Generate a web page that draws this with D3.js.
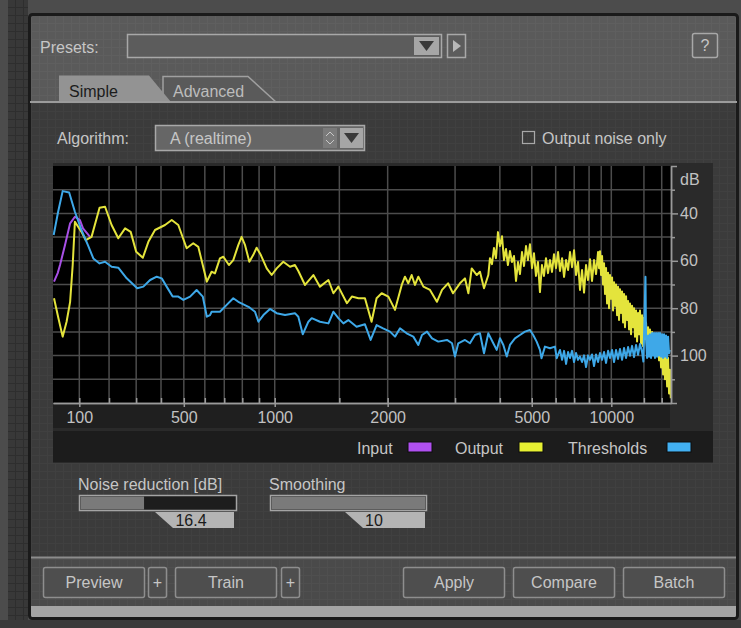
<!DOCTYPE html>
<html>
<head>
<meta charset="utf-8">
<script src="https://cdn.jsdelivr.net/npm/d3@7"></script>
<style>
  body { margin: 0; background: #4a4a4a; }
  svg { display: block; }
  text { font-family: "Liberation Sans", Arial, sans-serif; }
</style>
</head>
<body>
<div id="chart-area"></div>
<script>
// ---- data ----
var majorTicks = [100, 500, 1000, 2000, 5000, 10000];
var minorTicks = [200, 300, 400, 600, 700, 800, 900, 1500, 3000, 4000, 6000, 7000, 8000, 9000, 15000, 20000];
var dbLabels = [-40, -60, -80, -100];
var dbMinor = [-30, -50, -70, -90, -110];
var dbGrid = [-30, -40, -50, -60, -70, -80, -90, -100, -110];

var inputFreq = [22, 33, 40, 55, 71, 86, 102, 112, 135];
var inputDb = [-68.8, -65.2, -61.8, -53.4, -44.2, -41.4, -42.8, -46.3, -49.9];

var outputFreq = [22, 35, 48, 60, 71, 79, 86, 107, 121, 140, 167, 186, 209, 233, 258, 279, 300, 326, 348, 375,
  417, 446, 475, 513, 544, 568, 610, 626, 634, 651, 677, 695, 725, 749, 777, 796, 816, 841, 864, 885,
  911, 948, 980, 1013, 1058, 1105, 1140, 1165, 1215, 1280, 1333, 1404, 1447, 1491, 1570, 1617, 1681, 1748, 1818, 1873,
  1930, 2008, 2089, 2174, 2216, 2260, 2306, 2352, 2400, 2474, 2574, 2684, 2769, 2873, 2962, 3093, 3191, 3260, 3330, 3440,
  3510, 3603, 3706,
  3746, 3796, 3846, 3897, 3950, 4003, 4058, 4113, 4169, 4224, 4284, 4344, 4405, 4467, 4530, 4593, 4660, 4727, 4795, 4864,
  4934, 5008, 5081, 5157, 5234, 5312, 5394, 5477, 5562, 5649, 5736, 5828, 5921, 6016, 6115, 6213, 6318, 6423, 6530, 6641,
  6751, 6869, 6988, 7110, 7237, 7364, 7500, 7637, 7778, 7924, 8070, 8225, 8386, 8550, 8722, 8810,
  8893, 8986, 9079, 9171, 9264, 9357, 9458, 9559, 9660, 9761, 9862, 9972, 10083, 10193, 10304, 10414, 10535, 10657, 10778, 10899,
  11020, 11154, 11288, 11422, 11556, 11690, 11838, 11987, 12135, 12284, 12432, 12597, 12762, 12928, 13093, 13258, 13444, 13629, 13815, 14000,
  14186, 14395, 14605, 14814, 15024, 15233, 15472, 15710, 15949, 16187, 16426, 16700, 16975, 17249, 17523, 17797, 18116, 18435, 18754, 19073,
  19392, 19766, 20141, 20515, 20890, 21264, 21710, 22157, 22603, 23049, 23495, 23900];
var outputDb = [-75.8, -84.1, -92.0, -85.7, -77.3, -61.8, -43.5, -47.8, -51.3, -49.9, -37.6, -37.2, -44.9, -50.5, -46.3, -47.8, -56.2, -58.7, -52.0, -47.0,
  -44.9, -42.8, -44.9, -54.7, -52.6, -54.1, -68.8, -66.0, -64.6, -65.3, -59.0, -58.3, -61.8, -59.7, -53.4, -49.9, -53.4, -60.4, -57.6, -54.5,
  -57.6, -63.2, -66.0, -63.2, -60.4, -62.5, -61.8, -64.3, -70.2, -66.0, -70.9, -68.1, -73.7, -70.9, -77.9, -75.1, -75.8, -75.8, -85.7, -75.8,
  -73.7, -75.1, -80.7, -70.2, -66.7, -69.5, -66.0, -70.2, -66.7, -70.9, -72.3, -77.3, -72.3, -69.5, -73.7, -69.5, -67.4, -73.7, -63.2, -66.0,
  -64.6, -71.6, -66.0,
  -58.9, -61.4, -54.6, -58.9, -47.9, -53.8, -49.6, -59.7, -55.0, -61.8, -55.9, -60.5, -58.0, -68.5, -60.5, -65.6, -56.3, -62.2, -53.8, -59.7,
  -53.0, -63.1, -56.8, -66.4, -60.5, -73.2, -61.8, -66.4, -58.9, -65.2, -59.7, -64.7, -57.2, -63.1, -56.3, -64.3, -58.9, -66.8, -59.7, -63.9,
  -56.3, -62.7, -55.5, -66.0, -60.5, -72.3, -63.9, -73.4, -61.8, -68.1, -59.3, -68.5, -59.7, -65.6, -56.3, -63.1,
  -56, -66, -58, -70, -61, -74, -63, -78, -65, -80, -66, -76, -67, -81, -69, -79, -70, -83, -71, -85,
  -72, -82, -73, -86, -74, -88, -75, -85, -77, -89, -78, -91, -79, -88, -80, -92, -81, -94, -82, -91,
  -81, -95, -83, -96, -84, -93, -86, -97, -88, -98, -89, -96, -90, -99, -91, -100, -92, -98, -93, -102,
  -94, -105, -95, -108, -96, -110, -98, -113, -101, -116, -106, -118];

var threshFreq = [21, 34, 48, 68, 86, 107, 128, 146, 167, 186, 209, 233, 264, 304, 328, 355, 382, 403, 424, 450,
  475, 498, 529, 560, 590, 610, 626, 634, 677, 713, 749, 777, 836, 875, 896, 927, 969, 1013, 1070, 1140,
  1165, 1198, 1241, 1267, 1333, 1404, 1447, 1491, 1537, 1583, 1663, 1748, 1808, 1873, 1946, 2028, 2089, 2152, 2238, 2329,
  2400, 2453, 2528, 2606, 2707, 2854, 2944, 2998, 3060, 3191, 3293, 3400, 3510, 3603, 3706, 3829, 3916, 4003, 4095, 4191,
  4284, 4435, 4593, 4760, 4934, 5052, 5183, 5312, 5375, 5518, 5736, 5967, 6050,
  6213, 6318, 6423, 6530, 6641, 6751, 6869, 6988, 7110, 7237, 7364, 7500, 7637, 7778, 7924, 8070, 8225, 8386, 8550, 8722,
  8893, 9079, 9264, 9458, 9660, 9862, 10083, 10304, 10535, 10778, 11020, 11288, 11556, 11838, 12135, 12432, 12762, 13093, 13444, 13815,
  14186, 14605, 14880, 15340, 15472, 15710, 15949, 16187, 16426, 16700, 16975, 17249, 17523, 17797, 18116, 18435, 18754, 19073, 19392, 19766,
  20141, 20515, 20890, 21264, 21710, 22157, 22603, 23049, 23495];
var threshDb = [-49.1, -39.5, -30.6, -31.2, -39.3, -47.0, -53.4, -59.0, -61.1, -60.4, -62.5, -62.9, -67.4, -71.6, -70.9, -68.1, -66.7, -67.4, -70.9, -75.1,
  -75.1, -76.5, -75.1, -72.3, -75.1, -83.6, -82.9, -81.5, -81.5, -78.6, -75.8, -77.3, -79.4, -81.5, -85.7, -82.9, -80.3, -82.1, -82.9, -82.1,
  -83.6, -91.0, -85.7, -84.2, -85.7, -86.4, -81.5, -84.2, -86.4, -85.0, -87.8, -86.8, -93.4, -87.1, -88.5, -89.9, -92.0, -88.5, -90.6, -92.0,
  -95.5, -91.3, -89.9, -92.7, -94.1, -93.4, -94.8, -100.4, -94.8, -93.4, -94.8, -91.3, -90.6, -99.0, -90.6, -94.8, -97.6, -92.7, -95.5, -100.4,
  -95.5, -92.7, -91.3, -89.9, -89.2, -91.3, -94.1, -97.6, -101.1, -96.2, -96.9, -96.2, -101.1,
  -97.6, -101.8, -98.0, -103.5, -98.5, -101.0, -98.0, -102.7, -98.9, -101.8, -100.4, -102.7, -99.9, -104.8, -99.9, -101.8, -99.5, -104.4, -99.5, -102.7,
  -98.9, -101.8, -98.5, -103.1, -98.0, -101.0, -97.6, -102.7, -97.6, -101.4, -97.2, -101.8, -96.8, -101.0, -96.4, -100.1, -95.9, -100.6, -95.5, -99.7,
  -95.1, -98.5, -102.5, -66.7, -93.0, -101.0, -91.5, -100.5, -91.0, -101.0, -90.5, -100.0, -90.5, -101.0, -90.5, -100.5, -90.5, -100.0, -90.5, -100.5,
  -91.0, -101.0, -91.0, -100.5, -91.5, -101.0, -92.0, -99.0, -97.6];

var legendNames = ["Input", "Output", "Thresholds"];
var legendColors = ["#b050f0", "#e6f032", "#42b0f2"];
var lineColors = ["#a850e6", "#e4e43c", "#3ea8e8"];

var noiseReduction = 16.4;
var smoothing = 10;

var buttons = [
  { label: "Preview", x: 43, w: 101 }, { label: "+", x: 148, w: 18 },
  { label: "Train", x: 175, w: 101 }, { label: "+", x: 281, w: 18 },
  { label: "Apply", x: 403, w: 101 }, { label: "Compare", x: 513, w: 101 },
  { label: "Batch", x: 623, w: 101 }
];

var W = 741, H = 628;
var textColor = "#c6c6c6";

var svg = d3.select("#chart-area")
  .append("svg")
  .attr("width", W)
  .attr("height", H);

// Background textures
var defs = svg.append("defs");
function texture(id, bg, line) {
  var p = defs.append("pattern")
    .attr("id", id)
    .attr("width", 8)
    .attr("height", 8)
    .attr("patternUnits", "userSpaceOnUse");
  p.append("rect").attr("width", 8).attr("height", 8).attr("fill", bg);
  p.append("path").attr("d", "M7.5 0V8M0 7.5H8").attr("stroke", line).attr("stroke-width", 1);
}
texture("texTop", "#5a5a5a", "#5f5f5f");
texture("texLow", "#3b3b3b", "#404040");
texture("texBar", "#4a4a4a", "#4f4f4f");
texture("texSide", "#383838", "#2e2e2e");

svg.append("rect").attr("width", W).attr("height", H).attr("fill", "#4c4c4c");
svg.append("rect").attr("x", 8).attr("y", 0).attr("width", 20).attr("height", H).attr("fill", "url(#texSide)");
svg.append("rect").attr("x", 0).attr("y", 620).attr("width", W).attr("height", 8).attr("fill", "#3a3a3a");

// Panel sections
svg.append("rect").attr("x", 30).attr("y", 15).attr("width", 707).attr("height", 88).attr("fill", "url(#texTop)");
svg.append("rect").attr("x", 30).attr("y", 102).attr("width", 707).attr("height", 455).attr("fill", "url(#texLow)");
svg.append("rect").attr("x", 30).attr("y", 557).attr("width", 707).attr("height", 49).attr("fill", "url(#texBar)");
svg.append("rect").attr("x", 30).attr("y", 606).attr("width", 707).attr("height", 12).attr("fill", "#a4a4a4");
svg.append("line").attr("x1", 30).attr("x2", 737).attr("y1", 557.5).attr("y2", 557.5)
  .attr("stroke", "#8c8c8c").attr("stroke-width", 2);
svg.append("rect").attr("x", 29.5).attr("y", 14.5).attr("width", 708).attr("height", 604)
  .attr("rx", 3).attr("fill", "none").attr("stroke", "#1a1a1a").attr("stroke-width", 3);

function label(txt, x, y, opts) {
  opts = opts || {};
  return svg.append("text")
    .attr("x", x)
    .attr("y", y)
    .attr("fill", opts.fill || textColor)
    .attr("font-size", opts.size || 16)
    .attr("text-anchor", opts.anchor || "start")
    .text(txt);
}

// Presets row
label("Presets:", 40, 53);
svg.append("rect").attr("x", 127.5).attr("y", 34.5).attr("width", 314).attr("height", 23)
  .attr("fill", "#5c5c5c").attr("stroke", "#a8a8a8").attr("stroke-width", 1.5);
svg.append("rect").attr("x", 414).attr("y", 37).attr("width", 25).attr("height", 18).attr("fill", "#a6a6a6");
svg.append("path").attr("d", "M419,41H434L426.5,51Z").attr("fill", "#3a3a3a");
svg.append("rect").attr("x", 447.5).attr("y", 34.5).attr("width", 18).attr("height", 23)
  .attr("fill", "#5c5c5c").attr("stroke", "#a8a8a8").attr("stroke-width", 1.5);
svg.append("path").attr("d", "M453,40V52L461,46Z").attr("fill", "#b8b8b8");
svg.append("rect").attr("x", 692.5).attr("y", 33.5).attr("width", 25).attr("height", 24).attr("rx", 2)
  .attr("fill", "#5c5c5c").attr("stroke", "#a8a8a8").attr("stroke-width", 1.5);
label("?", 705, 51, { anchor: "middle" });

// Tabs
svg.append("path").attr("d", "M163,102V76.5H248L276,102")
  .attr("fill", "#5a5a5a").attr("stroke", "#a0a0a0").attr("stroke-width", 1.5);
svg.append("path").attr("d", "M59,102V75.5H149L171,102Z").attr("fill", "#939393");
svg.append("line").attr("x1", 30).attr("x2", 737).attr("y1", 102).attr("y2", 102)
  .attr("stroke", "#9c9c9c").attr("stroke-width", 2);
label("Simple", 69, 97, { fill: "#1c1c1c" });
label("Advanced", 173, 97, { fill: "#bdbdbd" });

// Algorithm row
label("Algorithm:", 57, 144);
svg.append("rect").attr("x", 155.5).attr("y", 125.5).attr("width", 209).attr("height", 25)
  .attr("fill", "#666666").attr("stroke", "#a8a8a8").attr("stroke-width", 1.5);
label("A (realtime)", 170, 144);
svg.append("rect").attr("x", 323).attr("y", 128).attr("width", 14).attr("height", 20).attr("fill", "#7a7a7a");
svg.append("path").attr("d", "M326,136L330,132L334,136M326,140L330,144L334,140")
  .attr("fill", "none").attr("stroke", "#c8c8c8").attr("stroke-width", 1);
svg.append("rect").attr("x", 340).attr("y", 128).attr("width", 23).attr("height", 20).attr("fill", "#a6a6a6");
svg.append("path").attr("d", "M344,133H359L351.5,143Z").attr("fill", "#3a3a3a");
svg.append("rect").attr("x", 522.5).attr("y", 131.5).attr("width", 12).attr("height", 12)
  .attr("fill", "none").attr("stroke", "#a8a8a8").attr("stroke-width", 1.2);
label("Output noise only", 542, 144);

// ---- spectrum chart ----
var margin = { left: 53, top: 166 };
var width = 618;
var height = 237;

svg.append("rect").attr("x", 53).attr("y", 163).attr("width", 660).attr("height", 300).attr("fill", "#2a2a2a");
svg.append("rect").attr("x", 53).attr("y", 403).attr("width", 617).attr("height", 25).attr("fill", "#1f1f1f");
svg.append("rect").attr("x", 53).attr("y", 431).attr("width", 660).attr("height", 31).attr("fill", "#1c1c1c");

var g = svg.append("g")
  .attr("transform", "translate(" + margin.left + "," + margin.top + ")");

g.append("rect").attr("width", width).attr("height", height).attr("fill", "#000");

// Bark-style frequency axis (Traunmuller)
function bark(f) {
  return 26.81 * f / (1960 + f) - 0.53;
}
var xb = d3.scaleLinear()
  .domain([bark(19), bark(24000)])
  .range([0, width]);
function x(f) {
  return xb(bark(f));
}

var y = d3.scaleLinear()
  .domain([-120, -20])
  .range([height, 0]);

var allTicks = majorTicks.concat(minorTicks);

// Grid
g.selectAll(".vgrid")
  .data(allTicks)
  .enter()
  .append("line")
  .attr("x1", function(d) { return x(d); })
  .attr("x2", function(d) { return x(d); })
  .attr("y1", 0)
  .attr("y2", height)
  .attr("stroke", "#4c4c4c")
  .attr("stroke-width", 1.5);

g.selectAll(".hgrid")
  .data(dbGrid)
  .enter()
  .append("line")
  .attr("x1", 0)
  .attr("x2", width)
  .attr("y1", function(d) { return y(d); })
  .attr("y2", function(d) { return y(d); })
  .attr("stroke", "#4c4c4c")
  .attr("stroke-width", 1.5);

// Series
function zip(fs, dbs) {
  return fs.map(function(f, i) {
    return { f: f, db: dbs[i] };
  });
}
var series = [zip(inputFreq, inputDb), zip(outputFreq, outputDb), zip(threshFreq, threshDb)];

var line = d3.line()
  .x(function(d) { return x(d.f); })
  .y(function(d) { return y(d.db); });

g.selectAll(".series")
  .data(series)
  .enter()
  .append("path")
  .attr("d", line)
  .attr("fill", "none")
  .attr("stroke", function(d, i) { return lineColors[i]; })
  .attr("stroke-width", 2)
  .attr("stroke-linejoin", "round");

// X axes: minor ticks up, labels below
var xMinor = d3.axisTop(xb)
  .tickValues(allTicks.map(bark))
  .tickSize(5)
  .tickSizeOuter(0)
  .tickFormat("");
var xMajor = d3.axisBottom(xb)
  .tickValues(majorTicks.map(bark))
  .tickSize(4)
  .tickSizeOuter(0)
  .tickPadding(5)
  .tickFormat(function(d, i) { return majorTicks[i]; });

var gxMinor = g.append("g").attr("transform", "translate(0," + height + ")").call(xMinor);
var gxMajor = g.append("g").attr("transform", "translate(0," + height + ")").call(xMajor);

// Right dB axis
var yMajor = d3.axisRight(y)
  .tickValues(dbLabels)
  .tickSize(7)
  .tickSizeOuter(6)
  .tickPadding(2)
  .tickFormat(function(d) { return Math.abs(d); });
var yMinor = d3.axisRight(y)
  .tickValues(dbMinor)
  .tickSize(4)
  .tickSizeOuter(0)
  .tickFormat("");

var gyMajor = g.append("g").attr("transform", "translate(" + width + ",0)").call(yMajor);
var gyMinor = g.append("g").attr("transform", "translate(" + width + ",0)").call(yMinor);

[gxMinor, gxMajor, gyMajor, gyMinor].forEach(function(a) {
  a.attr("font-size", 16).attr("font-family", null);
  a.selectAll("path, line").attr("stroke", "#9a9a9a").attr("stroke-width", 1.5);
  a.selectAll("text").attr("fill", "#c2c2c2");
});

g.append("text")
  .attr("x", width + 9)
  .attr("y", 19)
  .attr("fill", "#c2c2c2")
  .attr("font-size", 16)
  .text("dB");

// Legend
var legendText = [357, 455, 568];
var legendSwatch = [408, 519, 667];
legendNames.forEach(function(name, i) {
  label(name, legendText[i], 454);
  svg.append("rect")
    .attr("x", legendSwatch[i])
    .attr("y", 442)
    .attr("width", 24)
    .attr("height", 10)
    .attr("fill", legendColors[i])
    .attr("stroke", "#0c0c0c")
    .attr("stroke-width", 1);
});

// Sliders
function slider(title, value, maxValue, x0, w, boxX0, boxX1, valueX) {
  var s = d3.scaleLinear().domain([0, maxValue]).range([0, w - 2]);
  label(title, x0 - 1, 490);
  svg.append("rect").attr("x", x0 + 0.5).attr("y", 495.5).attr("width", w).attr("height", 15)
    .attr("fill", "#1d1d1d").attr("stroke", "#a4a4a4").attr("stroke-width", 1.5);
  svg.append("rect").attr("x", x0 + 1.5).attr("y", 496.5).attr("width", s(value)).attr("height", 13)
    .attr("fill", "#7a7a7a");
  svg.append("path")
    .attr("d", "M" + boxX0 + ",512H" + boxX1 + "V528H" + (boxX0 + 18) + "Z")
    .attr("fill", "#b4b4b4");
  label(value, valueX, 526, { fill: "#1a1a1a", anchor: "middle" });
}
slider("Noise reduction [dB]", noiseReduction, 40, 79, 157, 155, 234, 191);
slider("Smoothing", smoothing, 10, 270, 156, 345, 425, 374);

// Buttons
buttons.forEach(function(b) {
  svg.append("rect")
    .attr("x", b.x + 0.5).attr("y", 567.5).attr("width", b.w).attr("height", 30).attr("rx", 2)
    .attr("fill", "#4e4e4e").attr("stroke", "#8e8e8e").attr("stroke-width", 1.5);
  label(b.label, b.x + b.w / 2 + 0.5, 588, { anchor: "middle" });
});
</script>
</body>
</html>
